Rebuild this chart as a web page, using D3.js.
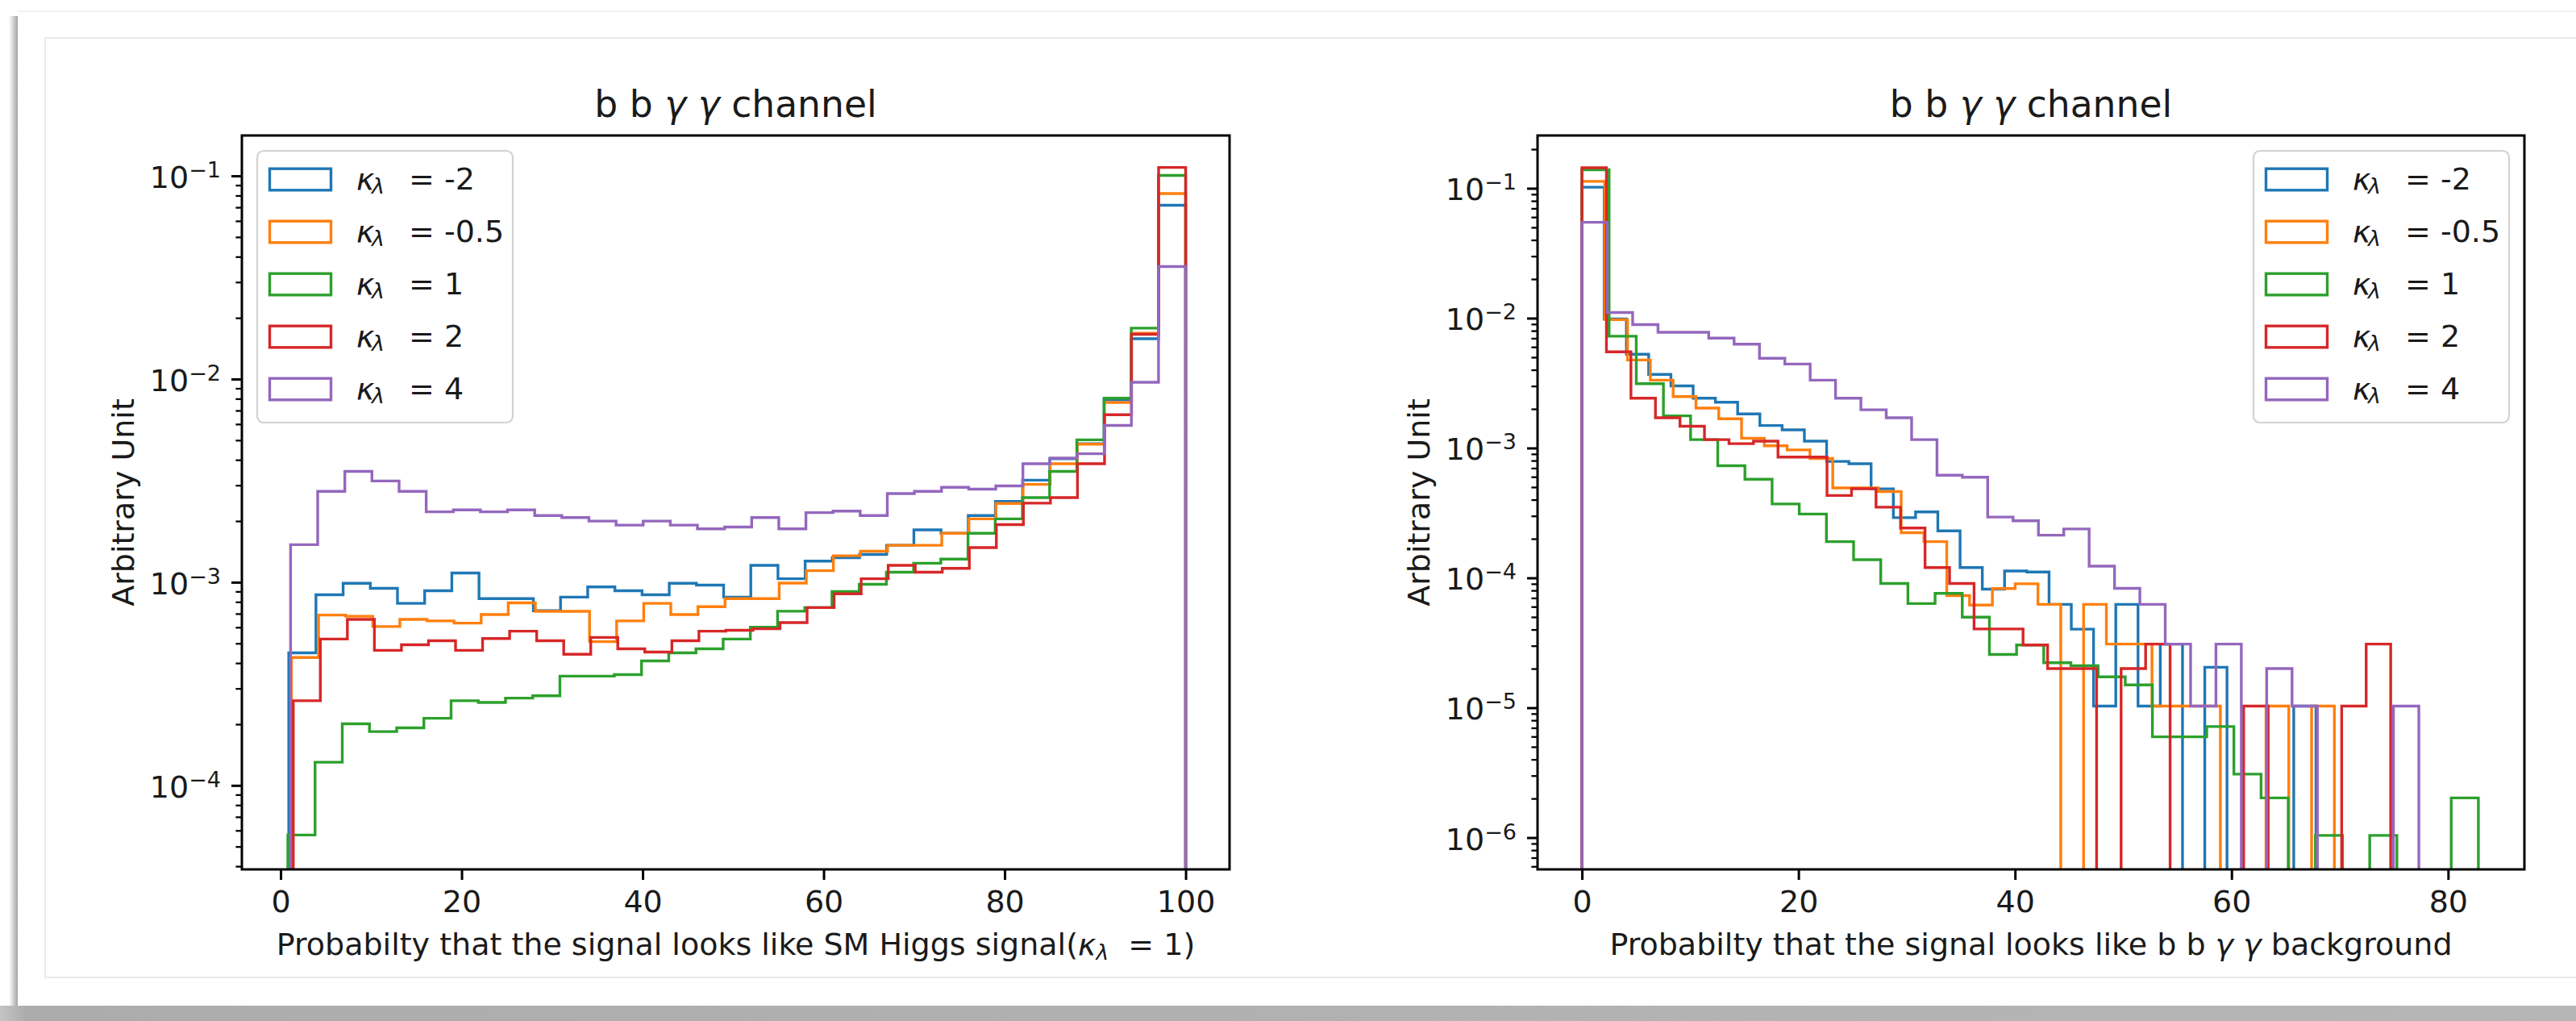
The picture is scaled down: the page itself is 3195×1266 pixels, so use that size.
<!DOCTYPE html>
<html>
<head>
<meta charset="utf-8">
<script src="https://cdn.jsdelivr.net/npm/d3@7"></script>
<style>
  html, body { margin: 0; padding: 0; background: #ffffff; }
  svg { display: block; }
</style>
</head>
<body>
<svg id="fig" width="3195" height="1266"></svg>
<script>
// ---------------------------------------------------------------------------
// Data: normalised DNN-score histograms (33 bins per sample) for five
// trilinear-coupling hypotheses kappa_lambda, b b gamma gamma channel.
// ---------------------------------------------------------------------------
const kappaValues = ["-2", "-0.5", "1", "2", "4"];
const seriesColors = ["#1f77b4", "#ff7f0e", "#2ca02c", "#d62728", "#9467bd"];
const BINS = 33;

const xTicksSignal = [0, 20, 40, 60, 80, 100];
const xTicksBackground = [0, 20, 40, 60, 80];

// Left panel: probability that the event looks like the SM Higgs signal
const signalRanges = [[0.9, 100], [1.2, 100], [0.8, 100], [1.4, 100], [1.1, 100]];
const signalKm2 = [4.49e-4, 8.67e-4, 9.88e-4, 9.33e-4, 7.87e-4, 9.08e-4, 1.11e-3, 8.3e-4, 8.3e-4, 7.24e-4,
  8.45e-4, 9.48e-4, 9.08e-4, 8.67e-4, 9.88e-4, 9.68e-4, 8.45e-4, 1.21e-3, 1.04e-3, 1.27e-3,
  1.32e-3, 1.37e-3, 1.52e-3, 1.81e-3, 1.74e-3, 2.13e-3, 2.50e-3, 3.18e-3, 4.05e-3, 4.8e-3,
  7.9e-3, 1.58e-2, 7.17e-2];
const signalKm05 = [4.26e-4, 6.89e-4, 6.8e-4, 6.05e-4, 6.56e-4, 6.45e-4, 6.29e-4, 6.93e-4, 7.92e-4, 7.19e-4,
  7.19e-4, 5.10e-4, 6.45e-4, 7.87e-4, 6.93e-4, 7.58e-4, 8.3e-4, 8.3e-4, 9.9e-4, 1.14e-3,
  1.35e-3, 1.42e-3, 1.52e-3, 1.52e-3, 1.74e-3, 2.05e-3, 2.44e-3, 3.03e-3, 3.83e-3, 4.78e-3,
  7.67e-3, 1.68e-2, 8.18e-2];
const signalK1 = [5.7e-5, 1.30e-4, 2.01e-4, 1.84e-4, 1.92e-4, 2.14e-4, 2.61e-4, 2.56e-4, 2.69e-4, 2.76e-4,
  3.45e-4, 3.45e-4, 3.51e-4, 4.10e-4, 4.49e-4, 4.70e-4, 5.25e-4, 6.0e-4, 7.2e-4, 7.5e-4,
  9.0e-4, 9.77e-4, 1.12e-3, 1.24e-3, 1.30e-3, 1.74e-3, 2.05e-3, 2.61e-3, 3.51e-3, 5.02e-3,
  8.05e-3, 1.78e-2, 1.005e-1];
const signalK2 = [2.61e-4, 5.25e-4, 6.56e-4, 4.62e-4, 4.92e-4, 5.15e-4, 4.62e-4, 5.28e-4, 5.74e-4, 5.15e-4,
  4.42e-4, 5.35e-4, 4.70e-4, 4.53e-4, 5.15e-4, 5.74e-4, 5.8e-4, 5.9e-4, 6.33e-4, 7.5e-4,
  8.77e-4, 1.04e-3, 1.21e-3, 1.12e-3, 1.17e-3, 1.48e-3, 1.92e-3, 2.45e-3, 2.61e-3, 3.83e-3,
  6.67e-3, 1.66e-2, 1.10e-1];
const signalK4 = [1.53e-3, 2.80e-3, 3.51e-3, 3.15e-3, 2.80e-3, 2.22e-3, 2.27e-3, 2.22e-3, 2.27e-3, 2.13e-3,
  2.08e-3, 2.0e-3, 1.91e-3, 2.0e-3, 1.91e-3, 1.83e-3, 1.87e-3, 2.08e-3, 1.83e-3, 2.20e-3,
  2.24e-3, 2.13e-3, 2.73e-3, 2.80e-3, 2.93e-3, 2.87e-3, 2.98e-3, 3.83e-3, 4.08e-3, 4.29e-3,
  5.91e-3, 9.64e-3, 3.58e-2];

// Right panel: probability that the event looks like the b b gamma gamma background
const bkgRanges = [[0, 67.8], [0, 69.5], [0, 82.8], [0, 74.7], [0, 77.3]];
const bkgKm2 = [1.02e-1, 9.87e-3, 5.27e-3, 3.69e-3, 3.01e-3, 2.42e-3, 2.25e-3, 1.83e-3, 1.49e-3, 1.38e-3,
  1.13e-3, 7.88e-4, 7.57e-4, 4.85e-4, 2.91e-4, 3.22e-4, 2.30e-4, 1.20e-4, 8.18e-5, 1.13e-4,
  1.11e-4, 6.25e-5, 4.03e-5, 1.03e-5, 6.25e-5, 1.03e-5, 3.09e-5, 0, 2.05e-5, 0,
  0, 0, 1.03e-5];
const bkgKm05 = [1.13e-1, 9.73e-3, 4.76e-3, 3.33e-3, 2.49e-3, 2.03e-3, 1.68e-3, 1.19e-3, 1.04e-3, 9.67e-4,
  8.30e-4, 4.93e-4, 4.93e-4, 4.62e-4, 2.23e-4, 1.90e-4, 7.31e-5, 6.17e-5, 8.28e-5, 9.0e-5,
  6.25e-5, 0, 6.25e-5, 3.09e-5, 3.09e-5, 1.03e-5, 1.03e-5, 1.03e-5, 0, 0,
  1.03e-5, 0, 1.03e-5];
const bkgK1 = [1.39e-1, 7.26e-3, 3.13e-3, 1.77e-3, 1.16e-3, 7.30e-4, 5.74e-4, 3.71e-4, 3.10e-4, 1.90e-4,
  1.38e-4, 9.06e-5, 6.34e-5, 7.6e-5, 4.98e-5, 2.57e-5, 3.04e-5, 2.22e-5, 2.11e-5, 1.73e-5,
  1.50e-5, 5.97e-6, 5.97e-6, 7.16e-6, 3.08e-6, 2.02e-6, 0, 1.04e-6, 0, 1.04e-6,
  0, 0, 2.02e-6];
const bkgK2 = [1.44e-1, 5.50e-3, 2.42e-3, 1.71e-3, 1.47e-3, 1.16e-3, 1.08e-3, 1.13e-3, 8.51e-4, 8.51e-4,
  4.31e-4, 4.86e-4, 3.50e-4, 2.42e-4, 1.20e-4, 9.06e-5, 4.04e-5, 4.04e-5, 3.04e-5, 2.0e-5,
  2.0e-5, 0, 2.0e-5, 3.09e-5, 0, 0, 0, 1.03e-5, 0, 0,
  0, 1.03e-5, 3.09e-5];
const bkgK4 = [5.47e-2, 1.104e-2, 8.91e-3, 7.78e-3, 7.78e-3, 7.02e-3, 6.30e-3, 4.91e-3, 4.43e-3, 3.33e-3,
  2.42e-3, 1.97e-3, 1.71e-3, 1.16e-3, 6.17e-4, 5.95e-4, 2.94e-4, 2.75e-4, 2.13e-4, 2.38e-4,
  1.23e-4, 8.3e-5, 6.25e-5, 3.09e-5, 1.03e-5, 3.09e-5, 0, 2.0e-5, 1.03e-5, 0,
  0, 0, 1.03e-5];

// ---------------------------------------------------------------------------
const FONT = "DejaVu Sans";
const INK = "#1a1a1a";
const svg = d3.select("#fig");

// Screenshot window frame (shadow edges and faint inner border)
const defs = svg.append("defs");
const gl = defs.append("linearGradient").attr("id", "shadeLeft").attr("x1", 0).attr("x2", 1).attr("y1", 0).attr("y2", 0);
gl.append("stop").attr("offset", 0).attr("stop-color", "#ffffff");
gl.append("stop").attr("offset", 1).attr("stop-color", "#a4a4a4");
const gb = defs.append("linearGradient").attr("id", "shadeBottom").attr("x1", 0).attr("x2", 1).attr("y1", 0).attr("y2", 0);
gb.append("stop").attr("offset", 0).attr("stop-color", "#c4c4c4");
gb.append("stop").attr("offset", 0.01).attr("stop-color", "#acacac");
gb.append("stop").attr("offset", 1).attr("stop-color", "#b6b6b6");

svg.append("rect").attr("x", 11).attr("y", 20).attr("width", 11).attr("height", 1227).attr("fill", "url(#shadeLeft)");
svg.append("rect").attr("x", 0).attr("y", 1247).attr("width", 3195).attr("height", 19).attr("fill", "url(#shadeBottom)");
svg.append("line").attr("x1", 22).attr("x2", 3195).attr("y1", 14).attr("y2", 14).attr("stroke", "#f2f2f2").attr("stroke-width", 2);
svg.append("path").attr("d", "M3195,47H56V1212H3195")
  .attr("fill", "none").attr("stroke", "#e4e4e4").attr("stroke-width", 1.5);

// Rich text helper: parts are [string, style] with style "", "it" or "sub"
function richText(textSel, parts, size) {
  let shift = 0;
  parts.forEach(([str, style]) => {
    const ts = textSel.append("tspan").text(str);
    const want = style === "sub" ? 6 : 0;
    if (want !== shift) { ts.attr("dy", want - shift); shift = want; }
    if (style === "it" || style === "sub") ts.attr("font-style", "italic");
    if (style === "sub") ts.attr("font-size", size * 0.7);
  });
}

const panels = [
  {
    left: 300, right: 1525, top: 168, bottom: 1078,
    xDomain: [-4.28, 104.85], yDomain: [3.86e-5, 0.158],
    xTicks: xTicksSignal, ranges: signalRanges,
    hists: [signalKm2, signalKm05, signalK1, signalK2, signalK4],
    legendX: 319, ylabelX: 166,
    title: [["b b ", ""], ["\u03b3", "it"], [" ", ""], ["\u03b3", "it"], [" channel", ""]],
    xlabel: [["Probabilty that the signal looks like SM Higgs signal(", ""], ["\u03ba", "it"], ["\u03bb", "sub"], ["\u00a0\u00a0= 1)", ""]]
  },
  {
    left: 1907, right: 3131, top: 168, bottom: 1078,
    xDomain: [-4.1, 87.05], yDomain: [5.69e-7, 0.255],
    xTicks: xTicksBackground, ranges: bkgRanges,
    hists: [bkgKm2, bkgKm05, bkgK1, bkgK2, bkgK4],
    legendX: 2795, ylabelX: 1773,
    title: [["b b ", ""], ["\u03b3", "it"], [" ", ""], ["\u03b3", "it"], [" channel", ""]],
    xlabel: [["Probabilty that the signal looks like b b ", ""], ["\u03b3", "it"], [" ", ""], ["\u03b3", "it"], [" background", ""]]
  }
];

panels.forEach((p, idx) => {
  const x = d3.scaleLinear().domain(p.xDomain).range([p.left, p.right]);
  const y = d3.scaleLog().domain(p.yDomain).range([p.bottom, p.top]);
  const g = svg.append("g").attr("font-family", FONT);

  const clipId = "plotClip" + idx;
  defs.append("clipPath").attr("id", clipId).append("rect")
    .attr("x", p.left).attr("y", p.top)
    .attr("width", p.right - p.left).attr("height", p.bottom - p.top);

  // Step histograms; empty bins fall below the log axis
  const below = p.bottom + 80;
  const stepLine = d3.line().x(d => x(d[0])).y(d => d[1] > 0 ? y(d[1]) : below);
  const hg = g.append("g").attr("clip-path", `url(#${clipId})`);
  p.hists.forEach((vals, s) => {
    const [lo, hi] = p.ranges[s];
    const edges = d3.range(BINS + 1).map(k => lo + (hi - lo) * k / BINS);
    const pts = [[edges[0], 0]];
    vals.forEach((v, k) => { pts.push([edges[k], v], [edges[k + 1], v]); });
    pts.push([edges[BINS], 0]);
    hg.append("path").attr("d", stepLine(pts))
      .attr("fill", "none").attr("stroke", seriesColors[s])
      .attr("stroke-width", 3.4).attr("stroke-linejoin", "miter");
  });

  // X axis
  const gx = g.append("g").attr("transform", `translate(0,${p.bottom})`)
    .call(d3.axisBottom(x).tickValues(p.xTicks).tickSize(13).tickPadding(13).tickFormat(d3.format("d")));
  gx.select(".domain").remove();
  gx.attr("font-size", 38).attr("font-family", FONT);
  gx.selectAll("line").attr("stroke", "#000").attr("stroke-width", 3);
  gx.selectAll("text").attr("fill", INK);

  // Y axis: log decades with minor ticks
  const all = y.ticks();
  const majors = all.filter(v => Math.abs(Math.log10(v) - Math.round(Math.log10(v))) < 1e-9);
  const minors = all.filter(v => !majors.includes(v));
  const gyMinor = g.append("g").attr("transform", `translate(${p.left},0)`)
    .call(d3.axisLeft(y).tickValues(minors).tickSize(7.6).tickFormat(() => ""));
  gyMinor.select(".domain").remove();
  gyMinor.selectAll("line").attr("stroke", "#000").attr("stroke-width", 2.3);

  const gy = g.append("g").attr("transform", `translate(${p.left},0)`)
    .call(d3.axisLeft(y).tickValues(majors).tickSize(13).tickPadding(13).tickFormat(() => ""));
  gy.select(".domain").remove();
  gy.attr("font-size", 38).attr("font-family", FONT);
  gy.selectAll("line").attr("stroke", "#000").attr("stroke-width", 3);
  gy.selectAll(".tick text").attr("fill", INK).attr("dy", "0.38em").each(function (d) {
    const e = Math.round(Math.log10(d));
    const t = d3.select(this);
    t.append("tspan").text("10");
    t.append("tspan").attr("font-size", 27).attr("dy", -13).text((e < 0 ? "\u2212" : "") + Math.abs(e));
  });

  // Spines
  g.append("rect").attr("x", p.left).attr("y", p.top)
    .attr("width", p.right - p.left).attr("height", p.bottom - p.top)
    .attr("fill", "none").attr("stroke", "#000").attr("stroke-width", 3);

  const cx = (p.left + p.right) / 2;
  // Title
  richText(g.append("text").attr("x", cx).attr("y", 145).attr("text-anchor", "middle")
    .attr("font-size", 45.6).attr("fill", INK), p.title, 45.6);
  // X label
  richText(g.append("text").attr("x", cx).attr("y", 1184).attr("text-anchor", "middle")
    .attr("font-size", 38).attr("fill", INK), p.xlabel, 38);
  // Y label
  g.append("text").attr("transform", `translate(${p.ylabelX},${(p.top + p.bottom) / 2}) rotate(-90)`)
    .attr("text-anchor", "middle").attr("font-size", 38).attr("fill", INK).text("Arbitrary Unit");

  // Legend
  const lg = g.append("g");
  const lx = p.legendX, ly = 187, lw = 317, lh = 337;
  lg.append("rect").attr("x", lx).attr("y", ly).attr("width", lw).attr("height", lh)
    .attr("rx", 8).attr("fill", "#ffffff").attr("fill-opacity", 0.8)
    .attr("stroke", "#d2d2d2").attr("stroke-width", 2.2);
  kappaValues.forEach((kv, i) => {
    const cy = ly + 35.5 + i * 65;
    lg.append("rect").attr("x", lx + 15.5).attr("y", cy - 13.3).attr("width", 76).attr("height", 26.6)
      .attr("fill", "none").attr("stroke", seriesColors[i]).attr("stroke-width", 3.4);
    const tx = lx + 123;
    const t = lg.append("text").attr("x", tx).attr("y", cy + 12.5).attr("font-size", 38).attr("fill", INK);
    t.append("tspan").attr("font-style", "italic").text("\u03ba");
    t.append("tspan").attr("x", tx + 19).attr("dy", 5).attr("font-size", 27).attr("font-style", "italic").text("\u03bb");
    t.append("tspan").attr("x", tx + 65).attr("dy", -5).text("= " + kv);
  });
});
</script>
</body>
</html>
